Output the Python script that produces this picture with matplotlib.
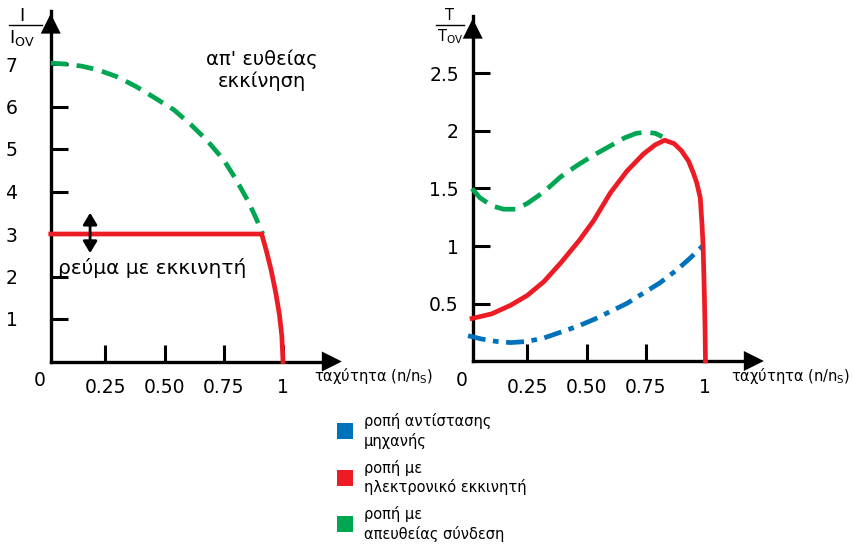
import matplotlib
matplotlib.use("Agg")
from matplotlib import pyplot as plt
from matplotlib.patches import Rectangle

plt.rcParams['font.family'] = ['DejaVu Sans']

GREEN = '#00a651'
RED = '#ed1c24'
BLUE = '#0072bc'

# left panel: current vs speed
speed_i_direct = [0.02, 0.08, 0.15, 0.22, 0.30, 0.38, 0.46, 0.54, 0.61, 0.68, 0.75, 0.80, 0.85, 0.88, 0.915]
current_direct = [7.02, 7.00, 6.95, 6.86, 6.70, 6.47, 6.20, 5.92, 5.58, 5.20, 4.74, 4.30, 3.80, 3.45, 3.0]
speed_i_starter = [0.02, 0.91, 0.93, 0.95, 0.97, 0.985, 0.995, 1.0]
current_starter = [3.0, 3.0, 2.6, 2.15, 1.6, 1.1, 0.6, 0.0]

# right panel: torque vs speed
speed_t_direct = [0.017, 0.05, 0.10, 0.15, 0.20, 0.25, 0.32, 0.39, 0.46, 0.53, 0.60, 0.66, 0.71, 0.75, 0.79, 0.82]
torque_direct = [1.50, 1.42, 1.35, 1.32, 1.32, 1.37, 1.47, 1.60, 1.70, 1.79, 1.87, 1.94, 1.98, 1.99, 1.98, 1.95]
speed_t_starter = [0.017, 0.10, 0.18, 0.25, 0.32, 0.39, 0.47, 0.53, 0.60, 0.67, 0.74, 0.79, 0.83, 0.87,
                   0.90, 0.93, 0.95, 0.965, 0.98, 0.987, 0.992, 0.997, 1.0, 1.002]
torque_starter = [0.37, 0.41, 0.485, 0.57, 0.69, 0.85, 1.05, 1.22, 1.46, 1.65, 1.80, 1.88, 1.92, 1.89,
                  1.83, 1.74, 1.64, 1.55, 1.42, 1.20, 1.0, 0.6, 0.3, 0.0]
speed_t_load = [0.0, 0.06, 0.12, 0.18, 0.25, 0.32, 0.39, 0.46, 0.53, 0.60, 0.67, 0.74, 0.81, 0.88, 0.94, 0.99]
torque_load = [0.22, 0.19, 0.17, 0.16, 0.17, 0.20, 0.25, 0.30, 0.36, 0.43, 0.50, 0.59, 0.68, 0.79, 0.90, 1.0]

i_ticks = [1, 2, 3, 4, 5, 6, 7]
t_ticks = [0.5, 1, 1.5, 2, 2.5]
t_tick_labels = ['0.5', '1', '1.5', '2', '2.5']
x_ticks = [0.25, 0.5, 0.75, 1]
x_tick_labels = ['0.25', '0.50', '0.75', '1']

legend_labels = ['ροπή αντίστασης\nμηχανής', 'ροπή με\nηλεκτρονικό εκκινητή', 'ροπή με\nαπευθείας σύνδεση']
legend_colors = [BLUE, RED, GREEN]

W, H = 852, 547
fig = plt.figure(figsize=(W / 100, H / 100), dpi=100)


def make_axes(px_left, px_right, x0_px, y0_px, x_scale, y_scale):
    # axes placed in pixel space so data 0 lands where it is in the picture
    bottom, top = 380, 5
    ax = fig.add_axes([px_left / W, (H - bottom) / H, (px_right - px_left) / W, (bottom - top) / H])
    ax.set_xlim((px_left - x0_px) / x_scale, (px_right - x0_px) / x_scale)
    ax.set_ylim((y0_px - bottom) / y_scale, (y0_px - top) / y_scale)
    for s in ['top', 'right']:
        ax.spines[s].set_visible(False)
    ax.spines['left'].set_position(('data', 0.02))
    ax.spines['bottom'].set_position(('data', 0))
    for s in ['left', 'bottom']:
        ax.spines[s].set_linewidth(2.4)
    ax.set_facecolor('none')
    ax.tick_params(direction='in', length=12, width=2.2, labelsize=13.5, color='black')
    return ax


def axis_arrows(ax, x_end, y_end):
    ax.spines['left'].set_bounds(0, y_end)
    ax.spines['bottom'].set_bounds(0.02, x_end)
    ap = dict(arrowstyle='-|>,head_length=0.9,head_width=0.45', lw=0, color='black', mutation_scale=16)
    ax.annotate('', xy=(0.02, y_end + 0.001), xytext=(0.02, y_end * 0.97), arrowprops=ap, annotation_clip=False)
    ax.annotate('', xy=(x_end + 0.06, 0), xytext=(x_end, 0), arrowprops=ap, annotation_clip=False)


# ---- left ----
ax1 = make_axes(20, 350, 46, 361.5, 237, 42.5)
ax1.plot(speed_i_direct, current_direct, color=GREEN, lw=3.4, dashes=(3.6, 1.9), solid_capstyle='butt', zorder=3)
ax1.plot(speed_i_starter, current_starter, color=RED, lw=3.4, solid_joinstyle='round', zorder=4)
ax1.set_yticks(i_ticks)
ax1.set_yticklabels([str(v) for v in i_ticks])
ax1.set_xticks(x_ticks)
ax1.set_xticklabels(x_tick_labels)
ax1.tick_params(axis='y', pad=24)
ax1.tick_params(axis='x', pad=12)
axis_arrows(ax1, 1.20, 8.25)
ax1.text(-0.025, -0.45, '0', fontsize=13.5, ha='center', va='center')
ax1.text(1.13, -0.35, 'ταχύτητα (n/n$_\\mathregular{S}$)', fontsize=10.5, ha='left', va='center')
ax1.text(0.91, 6.85, 'απ\' ευθείας\nεκκίνηση', fontsize=14, ha='center', va='center', linespacing=1.2)
ax1.text(0.45, 2.2, 'ρεύμα με εκκινητή', fontsize=14.5, ha='center', va='center')
ax1.annotate('', xy=(0.186, 3.5), xytext=(0.186, 2.55),
             arrowprops=dict(arrowstyle='<|-|>,head_length=0.5,head_width=0.3', lw=2, color='black',
                             mutation_scale=14, shrinkA=0, shrinkB=0), zorder=5)
fig.text(22 / W, 1 - 16 / H, 'I', fontsize=13, ha='center', va='center')
fig.add_artist(plt.Line2D([9 / W, 42 / W], [1 - 25 / H, 1 - 25 / H], color='black', lw=1))
fig.text(22 / W, 1 - 38 / H, 'I$_\\mathregular{OV}$', fontsize=13, ha='center', va='center')

# ---- right ----
ax2 = make_axes(440, 780, 468, 361, 237, 115)
ax2.plot(speed_t_direct, torque_direct, color=GREEN, lw=3.4, dashes=(4.4, 1.9), solid_capstyle='butt', zorder=3)
ax2.plot(speed_t_starter, torque_starter, color=RED, lw=3.4, solid_joinstyle='round', zorder=4)
ax2.plot(speed_t_load, torque_load, color=BLUE, lw=3.4, dashes=(3.8, 1.6, 1.2, 1.6), zorder=3)
ax2.set_yticks(t_ticks)
ax2.set_yticklabels(t_tick_labels)
ax2.set_xticks(x_ticks)
ax2.set_xticklabels(x_tick_labels)
ax2.tick_params(axis='y', pad=10)
ax2.tick_params(axis='x', pad=12)
axis_arrows(ax2, 1.20, 3.0)
ax2.text(-0.025, -0.17, '0', fontsize=13.5, ha='center', va='center')
ax2.text(1.11, -0.13, 'ταχύτητα (n/n$_\\mathregular{S}$)', fontsize=10.5, ha='left', va='center')
fig.text(450 / W, 1 - 16 / H, 'T', fontsize=10.5, ha='center', va='center')
fig.add_artist(plt.Line2D([436 / W, 464 / W], [1 - 25 / H, 1 - 25 / H], color='black', lw=1))
fig.text(450 / W, 1 - 37 / H, 'T$_\\mathregular{OV}$', fontsize=10.5, ha='center', va='center')

# ---- legend ----
for i, (lab, col) in enumerate(zip(legend_labels, legend_colors)):
    yc = 431 + i * 46.5
    fig.add_artist(Rectangle((337 / W, 1 - (yc + 8) / H), 16 / W, 16 / H, transform=fig.transFigure,
                             facecolor=col, edgecolor='none'))
    fig.text(364 / W, 1 - yc / H, lab, fontsize=10.5, ha='left', va='center', linespacing=1.3)

fig.savefig('out.png', dpi=100)
